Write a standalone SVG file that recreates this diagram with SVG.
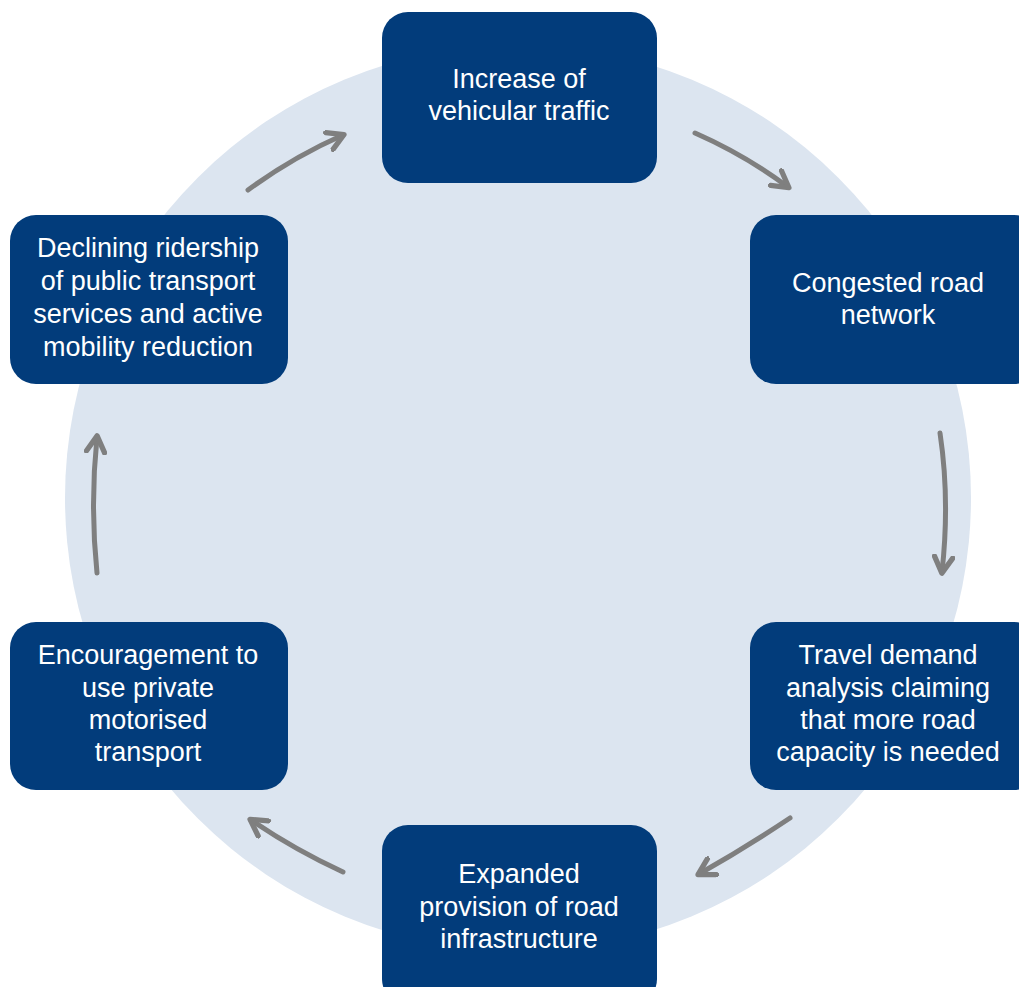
<svg xmlns="http://www.w3.org/2000/svg" width="1019" height="987" viewBox="0 0 1019 987">
<defs>
<style>
.box{fill:#023c7b;}
.t{font-family:"Liberation Sans",Arial,sans-serif;font-size:27px;fill:#ffffff;text-anchor:middle;}
.c{fill:none;stroke:#7f7f7f;stroke-width:5;stroke-linecap:round;}
</style>
<marker id="ah" viewBox="0 0 10 10" refX="7.5" refY="5" markerWidth="4.6" markerHeight="4.6" orient="auto" markerUnits="strokeWidth">
<path d="M1,1 L8,5 L1,9" fill="none" stroke="#7f7f7f" stroke-width="2.3" stroke-linecap="round" stroke-linejoin="round"/>
</marker>
</defs>
<rect width="1019" height="987" fill="#ffffff"/>
<circle cx="518" cy="498" r="453" fill="#dce5f0"/>
<g id="connectors">
<path class="c" d="M695,133 Q745,155 788,187" marker-end="url(#ah)"/>
<path class="c" d="M940,433 Q950,500 942,572" marker-end="url(#ah)"/>
<path class="c" d="M790,818 Q745,848 699,874" marker-end="url(#ah)"/>
<path class="c" d="M343,872 Q295,850 251,820" marker-end="url(#ah)"/>
<path class="c" d="M97,573 Q90,505 97,437" marker-end="url(#ah)"/>
<path class="c" d="M248,190 Q293,157 343,135" marker-end="url(#ah)"/>
</g>
<g id="n1"><rect class="box" x="382" y="12" width="275" height="171" rx="26"/>
<text class="t" x="519" y="88">Increase of</text><text class="t" x="519" y="120">vehicular traffic</text></g>
<g id="n2"><rect class="box" x="750" y="215" width="290" height="169" rx="26"/>
<text class="t" x="888" y="292">Congested road</text><text class="t" x="888" y="324">network</text></g>
<g id="n3"><rect class="box" x="750" y="622" width="290" height="168" rx="26"/>
<text class="t" x="888" y="664">Travel demand</text><text class="t" x="888" y="697">analysis claiming</text><text class="t" x="888" y="729">that more road</text><text class="t" x="888" y="761">capacity is needed</text></g>
<g id="n4"><rect class="box" x="382" y="825" width="275" height="180" rx="26"/>
<text class="t" x="519" y="883">Expanded</text><text class="t" x="519" y="916">provision of road</text><text class="t" x="519" y="948">infrastructure</text></g>
<g id="n5"><rect class="box" x="10" y="622" width="278" height="168" rx="26"/>
<text class="t" x="148" y="664">Encouragement to</text><text class="t" x="148" y="697">use private</text><text class="t" x="148" y="729">motorised</text><text class="t" x="148" y="761">transport</text></g>
<g id="n6"><rect class="box" x="10" y="215" width="278" height="169" rx="26"/>
<text class="t" x="148" y="257">Declining ridership</text><text class="t" x="148" y="290">of public transport</text><text class="t" x="148" y="323">services and active</text><text class="t" x="148" y="356">mobility reduction</text></g>
</svg>
